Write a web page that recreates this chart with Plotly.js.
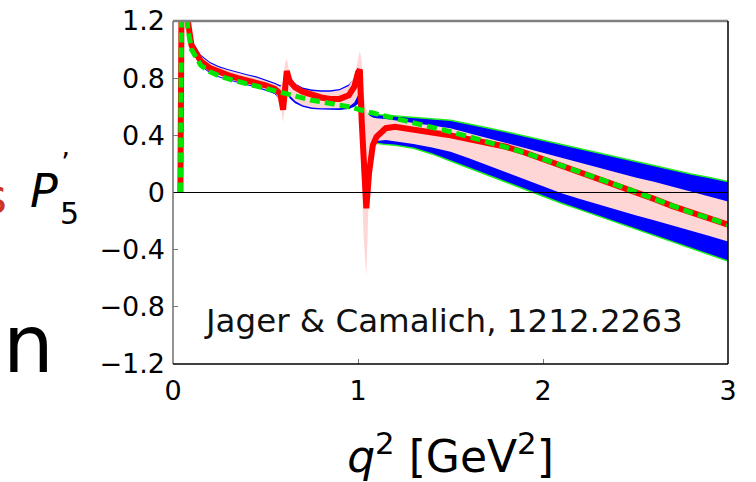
<!DOCTYPE html>
<html>
<head>
<meta charset="utf-8">
<script src="https://cdn.plot.ly/plotly-3.0.1.min.js"></script>
<style>html,body{margin:0;padding:0;background:#fff;}#chart{width:756px;height:482px;}</style>
</head>
<body>
<div id="chart"></div>
<script>
// q^2 grid [GeV^2]
const q2 = [0.040,0.046,0.060,0.080,0.100,0.150,0.200,0.250,0.300,0.350,
            0.400,0.450,0.500,0.550,0.580,0.595,0.605,0.615,0.630,0.660,
            0.700,0.750,0.800,0.850,0.900,0.950,0.980,1.000,1.010,1.020,
            1.030,1.045,1.060,1.080,1.100,1.150,1.200,1.300,1.400,1.500,
            1.600,1.700,1.800,1.900,2.000,2.100,2.200,2.300,2.400,2.500,
            2.600,2.700,2.800,2.900,3.000];
// central value with resonances (red)
const centralRes = [0,1.30,1.50,1.20,1.03,0.92,0.87,0.84,0.82,0.80,
            0.785,0.77,0.75,0.725,0.69,0.58,0.74,0.85,0.78,0.735,
            0.705,0.68,0.665,0.655,0.655,0.68,0.74,0.84,0.86,0.50,
            0.25,-0.11,0.14,0.33,0.39,0.45,0.46,0.445,0.42,0.40,
            0.375,0.35,0.32,0.28,0.235,0.19,0.145,0.10,0.055,0.005,
            -0.045,-0.095,-0.14,-0.18,-0.225];
// central value without resonances (green dashed)
const centralNoRes = [0,1.30,1.50,1.15,1.00,0.89,0.845,0.815,0.795,0.775,
            0.76,0.745,0.728,0.712,0.70,0.695,0.69,0.685,0.68,0.67,
            0.66,0.645,0.635,0.625,0.615,0.60,0.59,0.585,0.58,0.577,
            0.573,0.567,0.562,0.556,0.55,0.537,0.52,0.49,0.455,0.425,
            0.39,0.355,0.32,0.28,0.235,0.19,0.145,0.10,0.055,0.005,
            -0.045,-0.095,-0.14,-0.18,-0.225];
// outer (blue) band
const outerUp = [0,1.30,1.55,1.25,1.07,0.963,0.913,0.883,0.863,0.843,
            0.828,0.813,0.793,0.768,0.75,0.76,0.79,0.80,0.78,0.765,
            0.735,0.72,0.715,0.715,0.725,0.755,0.80,0.84,0.84,0.78,
            0.62,0.56,0.55,0.548,0.546,0.543,0.54,0.525,0.515,0.505,
            0.48,0.455,0.425,0.395,0.365,0.335,0.305,0.275,0.245,0.215,
            0.185,0.16,0.13,0.105,0.077];
const outerLow = [0,1.25,1.45,1.15,0.99,0.882,0.835,0.805,0.785,0.765,
            0.75,0.735,0.715,0.69,0.645,0.55,0.62,0.70,0.66,0.625,
            0.60,0.585,0.58,0.578,0.578,0.585,0.60,0.62,0.55,0.40,
            0.30,0.30,0.32,0.36,0.345,0.335,0.33,0.31,0.27,0.22,
            0.17,0.12,0.07,0.02,-0.03,-0.075,-0.12,-0.165,-0.21,-0.255,
            -0.30,-0.345,-0.39,-0.435,-0.48];
// inner (pink) band
const innerUp = [0,1.30,1.55,1.24,1.06,0.955,0.905,0.875,0.855,0.835,
            0.82,0.805,0.785,0.76,0.74,0.78,0.90,0.94,0.83,0.765,
            0.725,0.71,0.705,0.705,0.715,0.745,0.81,0.94,0.99,0.92,
            0.69,0.58,0.54,0.525,0.52,0.515,0.505,0.49,0.47,0.45,
            0.415,0.38,0.345,0.31,0.28,0.245,0.21,0.175,0.14,0.105,
            0.075,0.04,0.01,-0.025,-0.063];
const innerLow = [0,1.25,1.45,1.16,1.00,0.89,0.842,0.812,0.792,0.772,
            0.757,0.742,0.722,0.70,0.64,0.49,0.60,0.72,0.68,0.64,
            0.61,0.595,0.59,0.59,0.59,0.60,0.63,0.68,0.55,0.10,
            -0.30,-0.59,0.05,0.30,0.36,0.368,0.36,0.34,0.315,0.285,
            0.24,0.19,0.14,0.09,0.04,-0.005,-0.045,-0.085,-0.125,-0.16,
            -0.195,-0.23,-0.27,-0.305,-0.343];
const xTicks = [0,1,2,3];
const xTickText = ['0','1','2','3'];
const yTicks = [-1.2,-0.8,-0.4,0,0.4,0.8,1.2];
const yTickText = ['\u22121.2','\u22120.8','\u22120.4','0','0.4','0.8','1.2'];

const edgeStart = q2.indexOf(1.080);
const FONT = 'DejaVu Sans, Liberation Sans, Arial, sans-serif';

const traces = [
  {x:q2, y:outerLow, mode:'lines', line:{width:0, color:'#0000ff'}, hoverinfo:'skip'},
  {x:q2, y:outerUp, mode:'lines', fill:'tonexty', fillcolor:'#0000ff', line:{width:0, color:'#0000ff'}, hoverinfo:'skip'},
  {x:q2, y:innerLow, mode:'lines', line:{width:0, color:'#ffd6d6'}, hoverinfo:'skip'},
  {x:q2, y:innerUp, mode:'lines', fill:'tonexty', fillcolor:'#ffd6d6', line:{width:0, color:'#ffd6d6'}, hoverinfo:'skip'},
  {x:q2.slice(edgeStart), y:outerUp.slice(edgeStart), mode:'lines', line:{width:1.5, color:'#22ee22'}, hoverinfo:'skip'},
  {x:q2.slice(edgeStart), y:outerLow.slice(edgeStart), mode:'lines', line:{width:1.5, color:'#22ee22'}, hoverinfo:'skip'},
  {x:q2, y:centralRes, mode:'lines', line:{width:6, color:'#ff0000'}, hoverinfo:'skip'},
  {x:q2, y:centralNoRes, mode:'lines', line:{width:5, color:'#00e600', dash:'10px,5px'}, hoverinfo:'skip'}
];

const layout = {
  width:756, height:482,
  margin:{l:173, r:28, t:21, b:118},
  paper_bgcolor:'#ffffff', plot_bgcolor:'#ffffff',
  showlegend:false,
  font:{family:FONT, color:'#000'},
  xaxis:{range:[0,3], tickvals:xTicks, ticktext:xTickText, ticks:'inside', ticklen:5, tickcolor:'#777',
         showgrid:false, zeroline:false, showline:false, tickfont:{size:27, family:FONT}, ticklabelstandoff:8,
         title:{text:'<i>q</i><sup>2</sup> [GeV<sup>2</sup>]', font:{size:44, family:FONT}, standoff:43}},
  yaxis:{range:[-1.2,1.2], tickvals:yTicks, ticktext:yTickText, ticks:'inside', ticklen:5, tickcolor:'#777',
         showgrid:false, zeroline:false, showline:false, tickfont:{size:27, family:FONT}, ticklabelstandoff:7},
  shapes:[
    {type:'line', xref:'x', yref:'y', x0:0, x1:3, y0:0, y1:0, line:{color:'#000', width:1}, layer:'above'},
    {type:'line', xref:'paper', yref:'paper', x0:0, x1:1, y0:1, y1:1, line:{color:'#808080', width:2.5}, layer:'above'},
    {type:'line', xref:'paper', yref:'paper', x0:0, x1:0, y0:0, y1:1, line:{color:'#707070', width:1.5}, layer:'above'},
    {type:'line', xref:'paper', yref:'paper', x0:0, x1:1, y0:0, y1:0, line:{color:'#000', width:1.5}, layer:'above'},
    {type:'line', xref:'paper', yref:'paper', x0:1, x1:1, y0:0, y1:1, line:{color:'#000', width:1.5}, layer:'above'}
  ],
  annotations:[
    {text:'Jager & Camalich, 1212.2263', xref:'x', yref:'y', x:1.46, y:-0.9, xanchor:'center', yanchor:'middle', showarrow:false, font:{size:32.5, family:FONT, color:'#111'}},
    {text:'<i>P</i>', xref:'paper', yref:'paper', x:-0.232, y:0.505, xanchor:'center', yanchor:'middle', showarrow:false, font:{size:46, family:FONT, color:'#000'}},
    {text:'5', xref:'paper', yref:'paper', x:-0.187, y:0.44, xanchor:'center', yanchor:'middle', showarrow:false, font:{size:30, family:FONT, color:'#000'}},
    {text:'\u2019', xref:'paper', yref:'paper', x:-0.193, y:0.585, xanchor:'center', yanchor:'middle', showarrow:false, font:{size:28, family:FONT, color:'#000'}},
    {text:'s', xref:'paper', yref:'paper', x:-0.322, y:0.49, xanchor:'center', yanchor:'middle', showarrow:false, font:{size:48, family:FONT, color:'#cc3322'}},
    {text:'n', xref:'paper', yref:'paper', x:-0.26, y:0.058, xanchor:'center', yanchor:'middle', showarrow:false, font:{size:80, family:FONT, color:'#000'}}
  ]
};

Plotly.newPlot('chart', traces, layout, {staticPlot:true, displayModeBar:false});
</script>
</body>
</html>
